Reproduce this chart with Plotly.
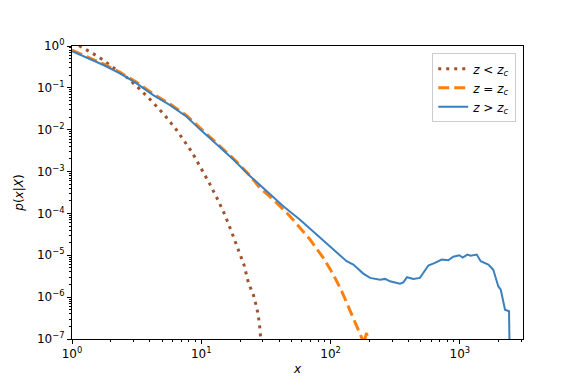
import plotly.graph_objects as go

# z < z_c (dotted)
x_below = [1.0, 1.21, 1.61, 2.09, 2.73, 3.40, 4.25, 5.27, 6.41, 8.43, 9.90, 11.5, 13.3,
           15.2, 17.1, 19.2, 21.4, 23.1, 25.6, 27.5, 28.6, 29.0]
y_below = [1.25, 0.916, 0.546, 0.304, 0.166, 0.0886, 0.0443, 0.0212, 0.0100, 2.98e-3,
           1.27e-3, 5.4e-4, 2.24e-4, 9.3e-5, 3.7e-5, 1.47e-5, 5.9e-6, 2.26e-6, 1.01e-6,
           3.96e-7, 1.5e-7, 3e-8]

# z = z_c (dashed)
x_crit = [1.0, 1.38, 1.75, 2.35, 3.16, 4.25, 5.73, 7.71, 9.77, 13.2, 17.7, 23.8, 28.4,
          38.3, 48.5, 58.0, 69.2, 87.8, 105, 122, 141, 159, 174, 178, 190, 202]
y_crit = [0.80, 0.51, 0.372, 0.235, 0.136, 0.0713, 0.0411, 0.0217, 0.0108, 4.7e-3,
          2.05e-3, 8.0e-4, 4.1e-4, 1.79e-4, 8.6e-5, 4.5e-5, 2.4e-5, 8.7e-6, 3.46e-6,
          1.38e-6, 5.0e-7, 2.2e-7, 1.07e-7, 7e-8, 1.4e-7, 3e-8]

# z > z_c (solid)
x_above = [1.0, 1.38, 1.75, 2.35, 3.16, 4.25, 5.73, 7.71, 9.77, 13.2, 17.7, 23.8, 32.0,
           43.1, 58.0, 78.0, 104, 133, 150, 179, 202, 241, 264, 288, 344, 365, 390, 436,
           491, 537, 570, 641, 723, 813, 889, 989, 1051, 1141, 1213, 1349, 1449, 1660,
           1813, 1983, 2070, 2234, 2399, 2440]
y_above = [0.75, 0.481, 0.351, 0.222, 0.128, 0.0673, 0.0388, 0.0205, 0.0102, 4.45e-3,
           1.95e-3, 7.8e-4, 3.4e-4, 1.49e-4, 7.1e-5, 3.1e-5, 1.37e-5, 7.2e-6, 6.0e-6,
           3.65e-6, 2.88e-6, 2.62e-6, 2.73e-6, 2.39e-6, 2.1e-6, 2.26e-6, 3.0e-6, 2.73e-6,
           2.88e-6, 4.4e-6, 5.7e-6, 6.6e-6, 7.9e-6, 7.6e-6, 9.2e-6, 1.0e-5, 8.8e-6,
           1.04e-5, 9.8e-6, 1.04e-5, 7.2e-6, 6.0e-6, 4.5e-6, 1.8e-6, 1.5e-6, 5.0e-7,
           4.6e-7, 1e-8]

x_tickvals = [1, 10, 100, 1000]
x_ticktext = ['10<sup>0</sup>', '10<sup>1</sup>', '10<sup>2</sup>', '10<sup>3</sup>']
y_tickvals = [1, 1e-1, 1e-2, 1e-3, 1e-4, 1e-5, 1e-6, 1e-7]
y_ticktext = ['10<sup>0</sup>', '10<sup>−1</sup>', '10<sup>−2</sup>', '10<sup>−3</sup>',
              '10<sup>−4</sup>', '10<sup>−5</sup>', '10<sup>−6</sup>', '10<sup>−7</sup>']

# minor ticks at 2..9 within each decade
x_minor = [m * 10 ** d for d in range(0, 4) for m in range(2, 10)]
y_minor = [m * 10 ** d for d in range(-7, 0) for m in range(2, 10)]

fig = go.Figure()
fig.add_trace(go.Scatter(x=x_below, y=y_below, mode='lines',
                         name='<i>z</i> < <i>z<sub>c</sub></i>',
                         line=dict(color='#a0522d', width=3, dash='3px,5px')))
fig.add_trace(go.Scatter(x=x_crit, y=y_crit, mode='lines',
                         name='<i>z</i> = <i>z<sub>c</sub></i>',
                         line=dict(color='#ff7f0e', width=3, dash='11px,5px')))
fig.add_trace(go.Scatter(x=x_above, y=y_above, mode='lines',
                         name='<i>z</i> > <i>z<sub>c</sub></i>',
                         line=dict(color='#3a80bf', width=2)))

axis_common = dict(showline=True, linewidth=1, linecolor='black', mirror=True,
                   ticks='outside', ticklen=4, tickcolor='black', showgrid=False,
                   zeroline=False, tickfont=dict(size=12, color='black'))

fig.update_xaxes(type='log', range=[0, 3.488], tickvals=x_tickvals, ticktext=x_ticktext,
                 minor=dict(tickvals=x_minor, ticks='outside', ticklen=2,
                            tickcolor='black', showgrid=False),
                 title=dict(text='<i>x</i>', font=dict(size=12, color='black'), standoff=4),
                 **axis_common)
fig.update_yaxes(type='log', range=[-7, 0], tickvals=y_tickvals, ticktext=y_ticktext,
                 minor=dict(tickvals=y_minor, ticks='outside', ticklen=2,
                            tickcolor='black', showgrid=False),
                 title=dict(text='<i>p</i>(<i>x</i>|<i>X</i>)', font=dict(size=12, color='black'),
                            standoff=10),
                 **axis_common)

fig.update_layout(width=581, height=388, plot_bgcolor='white', paper_bgcolor='white',
                  margin=dict(l=64, r=66, t=38, b=57, autoexpand=False),
                  font=dict(family='DejaVu Sans', size=12, color='black'),
                  legend=dict(x=0.985, y=0.975, xanchor='right', yanchor='top',
                              bgcolor='white', bordercolor='#cccccc', borderwidth=1,
                              font=dict(size=12), tracegroupgap=2))

fig.write_html("out.html")
